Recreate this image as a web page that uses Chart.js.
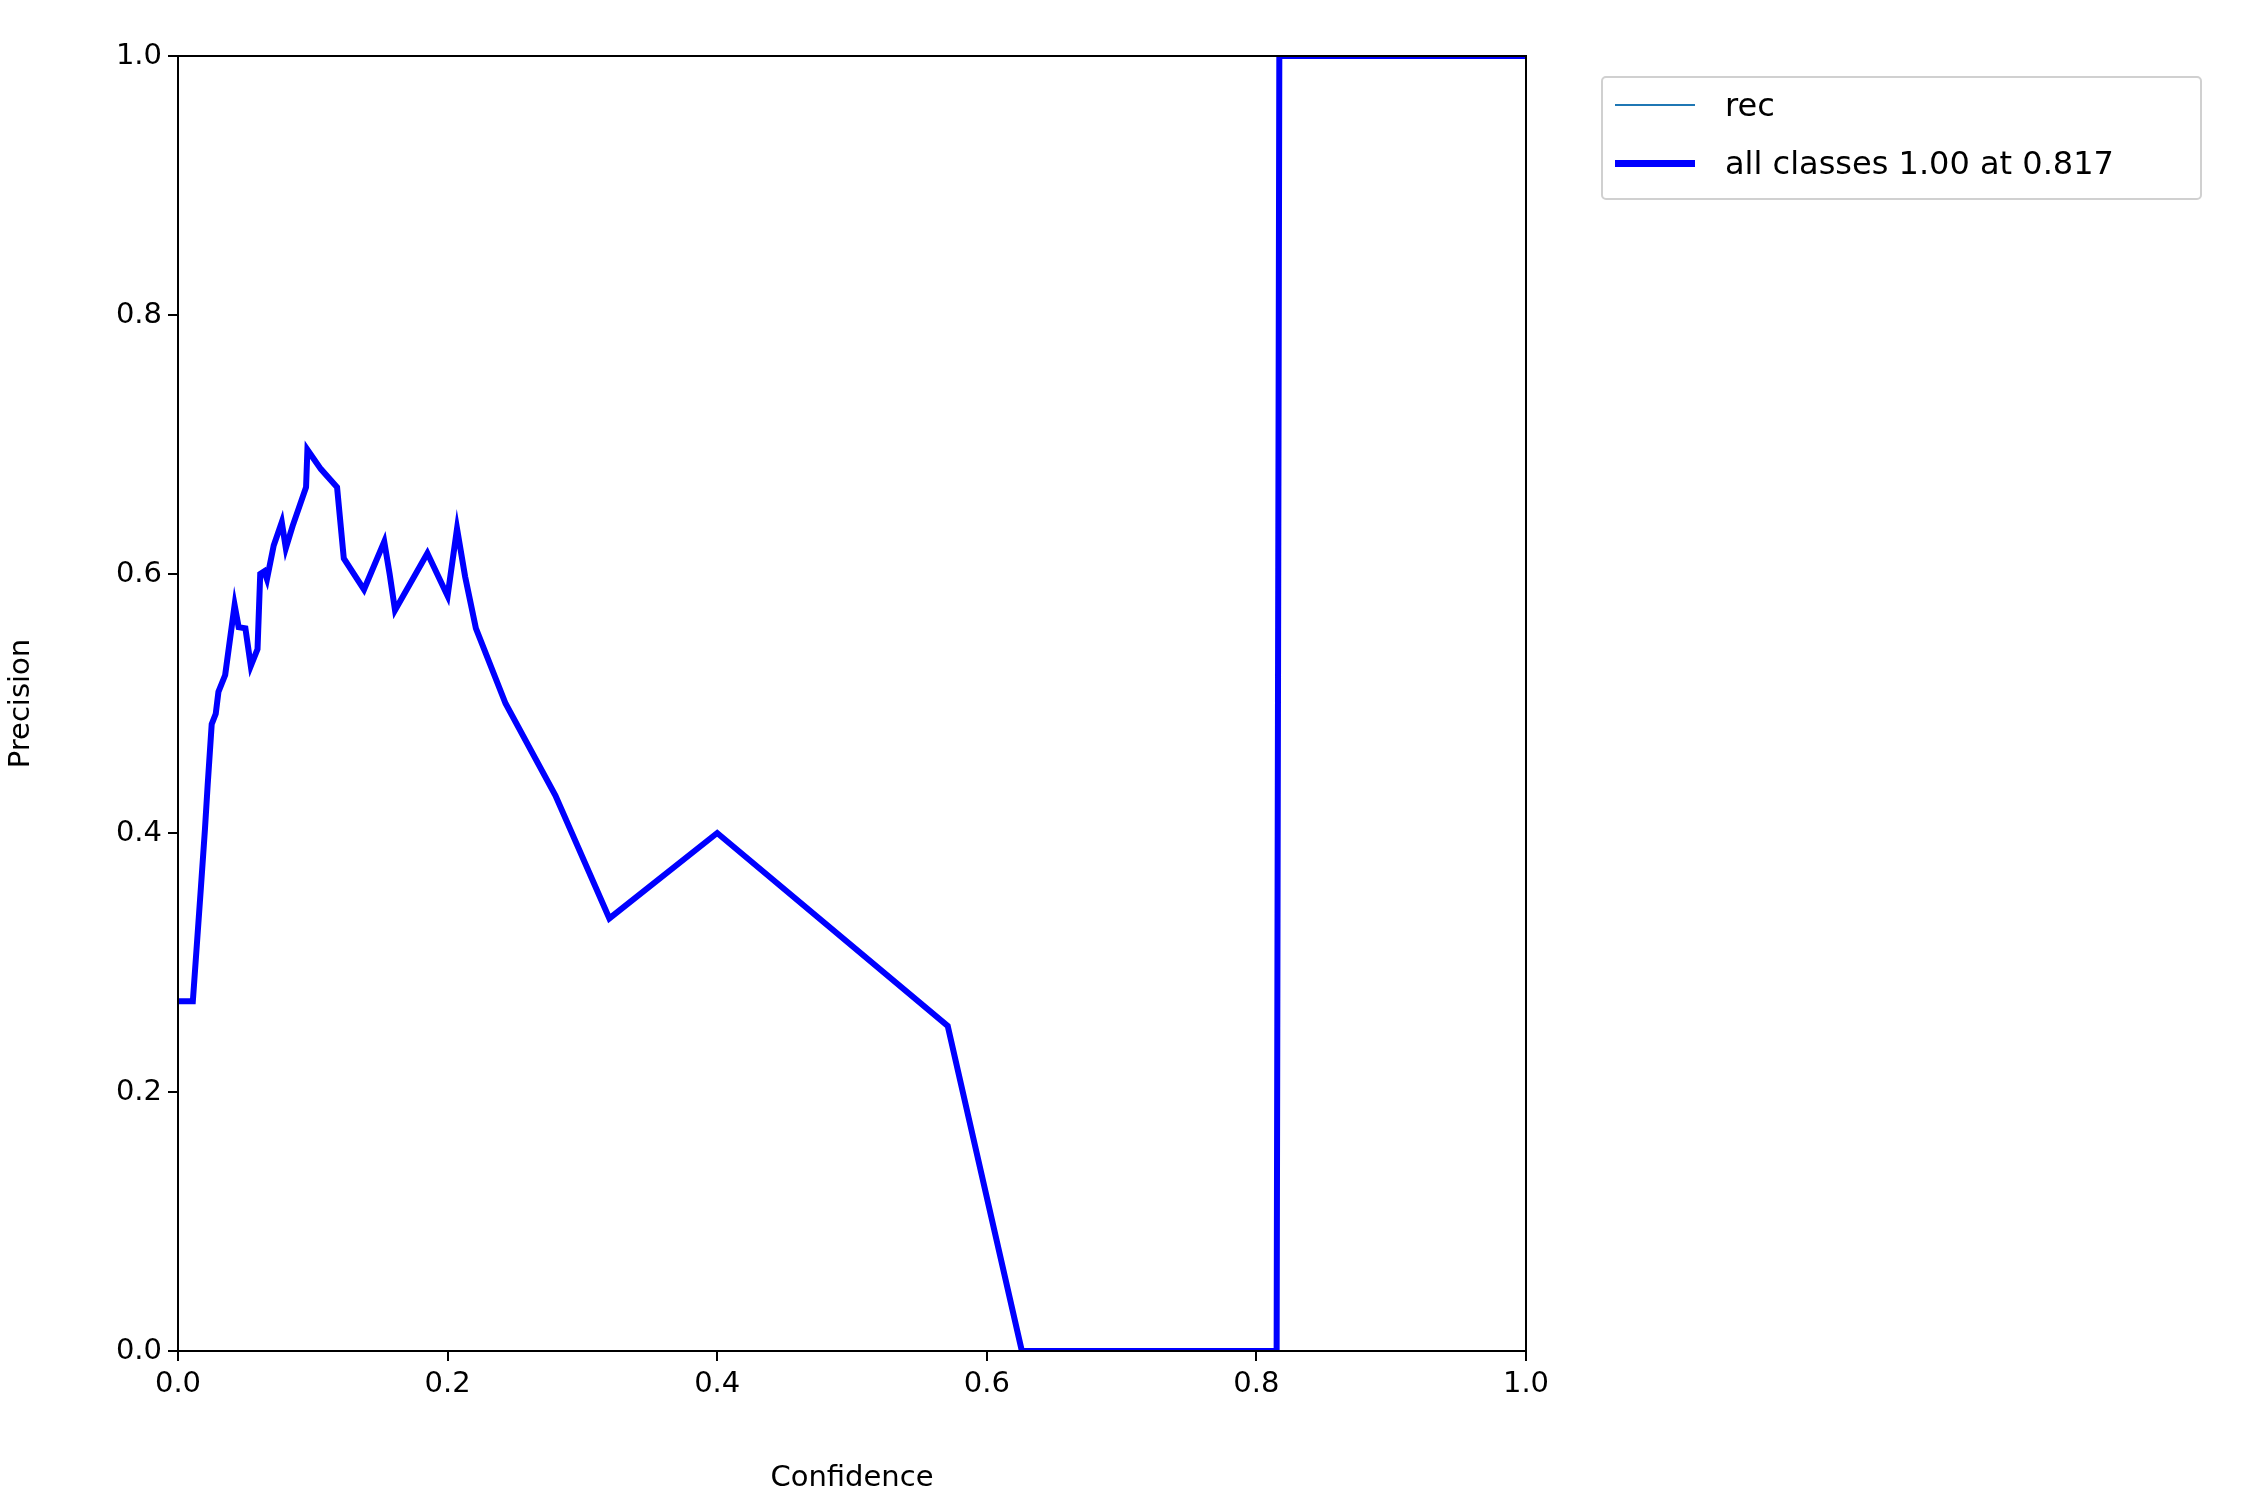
<!DOCTYPE html>
<html><head><meta charset="utf-8">
<script src="https://cdn.jsdelivr.net/npm/chart.js@4/dist/chart.umd.min.js"></script>
<style>body{margin:0;background:#fff;font-family:"DejaVu Sans"}
#lg{position:absolute;left:1601px;top:76px;width:601px;height:124px;border:2px solid #d0d0d0;border-radius:5px;box-sizing:border-box;font:32px "DejaVu Sans";color:#000}
.it{position:absolute;left:12px;display:flex;align-items:center}
.sw{width:80px;margin-right:30px}
</style></head><body>
<canvas id="c" width="2250" height="1500"></canvas>
<div id="lg">
<div class="it" style="top:8px"><div class="sw" style="border-top:2px solid #1f77b4"></div>rec</div>
<div class="it" style="top:66px"><div class="sw" style="border-top:7px solid #0000ff"></div>all classes 1.00 at 0.817</div>
</div>
<script>
const confidence=[0,0.011,0.014,0.017,0.020,0.022,0.025,0.028,0.030,0.035,0.042,0.045,0.050,0.054,0.059,0.061,0.064,0.066,0.071,0.077,0.080,0.085,0.095,0.096,0.106,0.118,0.123,0.138,0.153,0.157,0.161,0.185,0.200,0.207,0.213,0.221,0.243,0.280,0.320,0.400,0.571,0.626,0.815,0.817,1.0];
const precision=[0.27,0.27,0.314,0.358,0.403,0.437,0.484,0.492,0.509,0.522,0.576,0.559,0.558,0.529,0.542,0.600,0.602,0.596,0.622,0.640,0.620,0.637,0.667,0.696,0.681,0.667,0.612,0.588,0.625,0.600,0.572,0.616,0.583,0.635,0.598,0.558,0.500,0.429,0.334,0.400,0.251,0.0,0.0,1.0,1.0];
const yTicks=[0,0.2,0.4,0.6,0.8,1.0];
const frame={id:'frame',afterDraw(c){const a=c.chartArea,x=c.ctx;x.save();x.strokeStyle='#000';x.lineWidth=2;x.strokeRect(a.left,a.top,a.right-a.left,a.bottom-a.top);x.restore();}};
const tickFont={family:'DejaVu Sans',size:29};
new Chart(document.getElementById('c'),{type:'scatter',
data:{datasets:[
{label:'rec',data:[],borderColor:'#1f77b4',borderWidth:2,showLine:true,pointRadius:0},
{label:'all classes 1.00 at 0.817',data:confidence.map((v,i)=>({x:v,y:precision[i]})),borderColor:'#0000ff',borderWidth:6,showLine:true,pointRadius:0,tension:0}]},
options:{responsive:false,devicePixelRatio:1,animation:false,
layout:{padding:{top:56,right:724,left:0,bottom:0}},
plugins:{legend:{display:false},tooltip:{enabled:false}},
scales:{
x:{type:'linear',min:0,max:1,afterFit(s){s.height=149;},
 ticks:{stepSize:0.2,color:'#000',font:tickFont,maxRotation:0,padding:6,callback:v=>v.toFixed(1)},
 grid:{drawOnChartArea:false,tickLength:10,color:'#000',lineWidth:2},border:{color:'#000',width:2},
 title:{display:true,text:'Confidence',color:'#000',font:tickFont,padding:{top:4}}},
y:{min:0,max:1,afterFit(s){s.width=178;},afterBuildTicks(s){s.ticks=yTicks.map(v=>({value:v}));},
 ticks:{color:'#000',font:tickFont,padding:6,callback:v=>v.toFixed(1)},
 grid:{drawOnChartArea:false,tickLength:10,color:'#000',lineWidth:2},border:{color:'#000',width:2},
 title:{display:true,text:'Precision',color:'#000',font:tickFont,padding:{bottom:4}}}}},
plugins:[frame]});
</script></body></html>
